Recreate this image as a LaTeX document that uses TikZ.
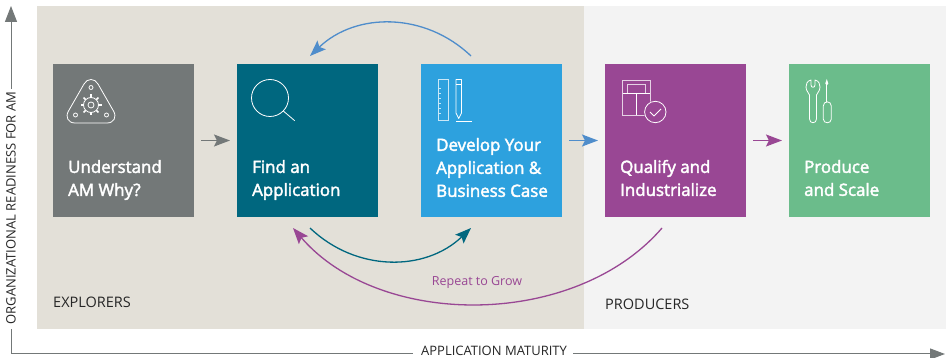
\documentclass[tikz,border=0pt]{standalone}
\usepackage{fontspec}
\setmainfont{Open Sans}
\newcommand{\semitxt}[1]{\special{pdf:code 2 Tr 0.4 w}#1\special{pdf:code 0 Tr}}
\usetikzlibrary{arrows.meta}
\definecolor{tanbg}{HTML}{E3E0D8}
\definecolor{greybg}{HTML}{F3F3F3}
\definecolor{cgrey}{HTML}{737878}
\definecolor{cteal}{HTML}{00677F}
\definecolor{cblue}{HTML}{2DA1DE}
\definecolor{cpurple}{HTML}{994794}
\definecolor{cgreen}{HTML}{6BBC8B}
\definecolor{arblue}{HTML}{4F8DCB}
\tikzset{
  x=1pt,y=-1pt,
  stepbox/.style={minimum width=141pt,minimum height=153pt,inner sep=0pt,outer sep=0pt,anchor=north west},
  boxlabel/.style={anchor=west,text=white,font=\fontsize{16.9pt}{23pt}\selectfont,align=left,inner sep=0pt},
  zone/.style={font=\fontsize{14.5pt}{17pt}\selectfont,text=black!85,anchor=west,inner sep=0pt},
  axlab/.style={font=\fontsize{13pt}{15pt}\selectfont,text=black!85,inner sep=0pt},
  flow/.style={line width=1.3pt,-{Stealth[length=16pt,width=12pt,inset=3pt]},shorten <=7pt,shorten >=7pt},
  curve/.style={line width=1.3pt,-{Stealth[length=16pt,width=12pt,inset=3pt]}},
  ico/.style={white,line width=0.8pt,line join=round},
  icof/.style={line width=0.9pt}
}
\begin{document}
\begin{tikzpicture}
\useasboundingbox (0,0) rectangle (946,358);
\fill[white] (0,0) rectangle (946,358);
\fill[tanbg] (37,6) rectangle (584,329);
\fill[greybg] (584,6) rectangle (946,329);

\node[stepbox,fill=cgrey] (b1) at (53,64) {};
\node[stepbox,fill=cteal] (b2) at (237,64) {};
\node[stepbox,fill=cblue] (b3) at (421,64) {};
\node[stepbox,fill=cpurple] (b4) at (605,64) {};
\node[stepbox,fill=cgreen] (b5) at (789,64) {};

\node[boxlabel] (t1) at (68,180) {\semitxt{Understand\\AM Why?}};
\node[boxlabel] (t2) at (252,180) {\semitxt{Find an\\Application}};
\node[boxlabel] (t3) at (436,167.5) {\semitxt{Develop Your\\Application \&\\Business Case}};
\node[boxlabel] (t4) at (620,178) {\semitxt{Qualify and\\Industrialize}};
\node[boxlabel] (t5) at (804,178) {\semitxt{Produce\\and Scale}};

\draw[flow,cgrey] (b1.east) -- (b2.west);
\draw[flow,arblue] (b3.east) -- (b4.west);
\draw[flow,cpurple] (b4.east) -- (b5.west);

\coordinate (c1) at (471,56);
\coordinate (c2) at (310,56);
\coordinate (c3) at (310,228);
\coordinate (c4) at (471,228);
\coordinate (c5) at (662,228);
\coordinate (c6) at (293,228);
\draw[curve,arblue] (c1) .. controls (425,12) and (356,12) .. (c2);
\draw[curve,cteal] (c3) .. controls (356,272) and (425,272) .. (c4);
\draw[curve,cpurple] (c5) .. controls (575,329) and (380,329) .. (c6);

\node[font=\fontsize{12.5pt}{15pt}\selectfont,text=cpurple,inner sep=0pt] (rep) at (477,282) {Repeat to Grow};
\node[zone] (z1) at (53,302) {EXPLORERS};
\node[zone] (z2) at (605,304) {PRODUCERS};

% axes
\node[axlab,rotate=90] (ay) at (11,208) {ORGANIZATIONAL READINESS FOR AM};
\node[axlab] (ax) at (494,350.5) {APPLICATION MATURITY};
\coordinate (ytip) at (11,6);
\coordinate (xtip) at (945,354);
\coordinate (corner) at (11,354);
\draw[cgrey,line width=1pt,-{Stealth[length=16pt,width=12pt,inset=0pt]}] (ay.east) ++(0,-3) -- (ytip);
\draw[cgrey,line width=1pt] (ay.west) ++(0,5) -- (corner) -- (413,354);
\draw[cgrey,line width=1pt,-{Stealth[length=15pt,width=11pt,inset=0pt]}] (ax.east) ++(6,3.5) -- (xtip);

% icon 1
\draw[ico] (75,123) -- (107,123) .. controls (114,123) and (117,117) .. (113.5,111) -- (98,84)
  .. controls (95,78) and (87,78) .. (84,84) -- (68.5,111) .. controls (65,117) and (68,123) .. (75,123) -- cycle;
\draw[ico] (91,105) circle (7.5);
\draw[ico] (91,105) circle (3);
\foreach \a in {0,45,...,315}{\draw[ico,line width=1.6pt] (91,105) ++(\a:7.5) -- ++(\a:3);}
\draw[ico] (91,87.5) circle (2);
\draw[ico] (75.5,115) circle (2);
\draw[ico] (106.5,115) circle (2);
% icon 2
\draw[ico] (270,98) circle (18.5);
\draw[ico] (283.3,111) -- (294.7,120.7);
% icon 3
\draw[icof,white!75!cblue] (438,79.5) rectangle (448,120.5);
\foreach \yy in {88,93,98,103,108,113}{\draw[icof,white!75!cblue] (438,\yy) -- (441,\yy);}
\draw[ico] (456,79.5) -- (461.5,79.5) -- (461.5,113) -- (458.7,118.5) -- (456,113) -- cycle;
\draw[ico] (456,84) -- (461.5,84);
\draw[white,line width=1.6pt] (456,121.7) -- (472,121.7);
% icon 4
\draw[icof,white!75!cpurple] (622.7,80) rectangle (650,115);
\draw[icof,white!75!cpurple] (627,93) -- (627,84.5) -- (645.7,84.5) -- (645.7,93);
\draw[ico] (622.7,93) -- (650,93);
\draw[ico] (636.7,93) -- (636.7,115);
\fill[cpurple] (655.3,112) circle (11.5);
\draw[ico] (655.3,112) circle (10.7);
\draw[ico] (650,112) -- (654,116) -- (661,109);
% icon 5
\draw[ico] (811,80) .. controls (807,81) and (806,84) .. (806,87) .. controls (806,91) and (809,93) .. (809.5,95)
  -- (809.5,119) .. controls (809.5,124) and (816.5,124) .. (816.5,119) -- (816.5,95)
  .. controls (817,93) and (820,91) .. (820,87) .. controls (820,84) and (819,81) .. (815,80)
  -- (815,85) .. controls (815,88) and (811,88) .. (811,85) -- cycle;
\draw[ico] (826.8,85) -- (826.8,102);
\fill[white] (826.8,79) -- (828.3,83.5) -- (826.8,85.5) -- (825.3,83.5) -- cycle;
\draw[ico] (823.3,106) .. controls (823.3,100.5) and (831.3,100.5) .. (831.3,106) -- (831.3,119) .. controls (831.3,124) and (823.3,124) .. (823.3,119) -- cycle;
\end{tikzpicture}
\end{document}
